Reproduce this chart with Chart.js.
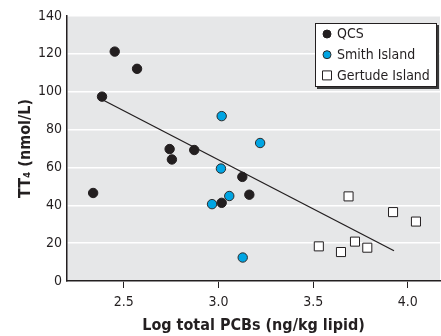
<!DOCTYPE html>
<html>
<head>
<meta charset="utf-8">
<script src="https://cdn.jsdelivr.net/npm/chart.js@4.4.0/dist/chart.umd.min.js"></script>
<style>
html, body { margin: 0; padding: 0; background: #fff; }
</style>
</head>
<body>
<canvas id="myChart01" width="441" height="336"></canvas>
<script>
// data
var qcsX = [2.338, 2.452, 2.570, 2.385, 2.742, 2.754, 2.872, 3.017, 3.126, 3.163];
var qcsY = [46.5, 121.2, 112.1, 97.4, 69.7, 64.2, 69.2, 41.3, 55.0, 45.6];

var smithX = [3.017, 3.220, 3.013, 2.966, 3.057, 3.128];
var smithY = [87.1, 72.9, 59.4, 40.6, 44.9, 12.4];

var gertudeX = [3.687, 3.922, 4.043, 3.530, 3.647, 3.721, 3.786];
var gertudeY = [44.7, 36.4, 31.4, 18.3, 15.3, 20.8, 17.6];

// regression line end points
var fitX = [2.385, 3.927];
var fitY = [95.9, 16.0];

var xTicks = [2.5, 3.0, 3.5, 4.0];
var yTicks = [0, 20, 40, 60, 80, 100, 120, 140];

var seriesNames = ['QCS', 'Smith Island', 'Gertude Island'];

function toPoints(xs, ys) {
    return xs.map(function (x, i) { return { x: x, y: ys[i] }; });
}

Chart.defaults.font.family = '"Liberation Sans Narrow", "DejaVu Sans Condensed", "Arial Narrow", sans-serif';
Chart.defaults.color = '#231f20';

//灰色底
var plotBg = {
    id: 'plotBg',
    beforeDraw: function (chart) {
        var a = chart.chartArea, ctx = chart.ctx;
        ctx.save();
        ctx.fillStyle = '#e6e7e8';
        ctx.fillRect(a.left, a.top, a.right - a.left, a.bottom - a.top);
        ctx.restore();
    }
};

//圖例 (box with shadow, inside the plot)
var boxLegend = {
    id: 'boxLegend',
    afterDraw: function (chart) {
        var ctx = chart.ctx;
        var x = 315, y = 23, w = 122, h = 64;
        ctx.save();
        ctx.fillStyle = '#3a3a3a';
        ctx.fillRect(x + 2, y + 2, w, h);
        ctx.fillStyle = '#fff';
        ctx.fillRect(x, y, w, h);
        ctx.strokeStyle = '#231f20';
        ctx.lineWidth = 1;
        ctx.strokeRect(x + 0.5, y + 0.5, w - 1, h - 1);
        ctx.font = '14px ' + Chart.defaults.font.family;
        ctx.textBaseline = 'middle';
        for (var i = 0; i < seriesNames.length; i++) {
            var ds = chart.data.datasets[i + 1];
            var my = y + 11 + i * 20.7, mx = 327;
            ctx.fillStyle = ds.backgroundColor;
            ctx.strokeStyle = ds.borderColor;
            ctx.lineWidth = 1;
            ctx.beginPath();
            if (ds.pointStyle === 'rect') {
                ctx.rect(mx - 4.5, my - 4.5, 9, 9);
            } else {
                ctx.arc(mx, my, 4, 0, Math.PI * 2);
            }
            ctx.fill();
            ctx.stroke();
            ctx.fillStyle = '#231f20';
            ctx.fillText(seriesNames[i], 337, my + 0.5);
        }
        ctx.restore();
    }
};

var ctx01 = document.getElementById('myChart01');
var chart01 = new Chart(ctx01, {
    type: 'scatter',
    data: {
        datasets: [{
            label: 'fit',
            data: toPoints(fitX, fitY),
            showLine: true,
            borderColor: '#231f20',
            borderWidth: 1.3,
            pointRadius: 0
        }, {
            label: seriesNames[0],
            data: toPoints(qcsX, qcsY),
            backgroundColor: '#231f20',
            borderColor: '#231f20',
            borderWidth: 1,
            pointRadius: 4.7
        }, {
            label: seriesNames[1],
            data: toPoints(smithX, smithY),
            backgroundColor: '#00a5e3',
            borderColor: '#2b2b2b',
            borderWidth: 1,
            pointRadius: 4.7
        }, {
            label: seriesNames[2],
            data: toPoints(gertudeX, gertudeY),
            pointStyle: 'rect',
            backgroundColor: '#ffffff',
            borderColor: '#231f20',
            borderWidth: 1,
            pointRadius: 6.4
        }]
    },
    options: {
        responsive: false,
        animation: false,
        layout: { autoPadding: false, padding: { top: 16, right: 1, left: 0, bottom: 0 } },
        plugins: {
            legend: { display: false },
            tooltip: { enabled: false }
        },
        scales: {
            x: {
                type: 'linear',
                min: 2.2,
                max: 4.17,
                afterBuildTicks: function (scale) {
                    scale.ticks = xTicks.map(function (v) { return { value: v }; });
                },
                afterFit: function (scale) {
                    scale.height = 55;
                    scale.paddingLeft = 0;
                    scale.paddingRight = 0;
                },
                grid: {
                    drawOnChartArea: false,
                    drawTicks: true,
                    tickLength: 7,
                    color: '#231f20',
                    lineWidth: 1
                },
                border: { color: '#231f20', width: 1.5 },
                ticks: {
                    padding: 6,
                    font: { size: 14 },
                    callback: function (v) { return v.toFixed(1); }
                },
                title: {
                    display: true,
                    text: 'Log total PCBs (ng/kg lipid)',
                    font: { size: 16, weight: 'bold' },
                    padding: { top: 0, bottom: 1 }
                }
            },
            y: {
                min: 0,
                max: 140,
                afterBuildTicks: function (scale) {
                    scale.ticks = yTicks.map(function (v) { return { value: v }; });
                },
                afterFit: function (scale) {
                    scale.width = 67;
                    scale.paddingTop = 0;
                    scale.paddingBottom = 0;
                },
                grid: {
                    drawTicks: false,
                    color: '#ffffff',
                    lineWidth: 1.5
                },
                border: { color: '#231f20', width: 1.5 },
                ticks: {
                    padding: 5,
                    font: { size: 14 }
                },
                title: {
                    display: true,
                    text: 'TT\u2084 (nmol/L)',
                    font: { size: 16, weight: 'bold' },
                    padding: { top: 16, bottom: 0 }
                }
            }
        }
    },
    plugins: [plotBg, boxLegend]
});
</script>
</body>
</html>
